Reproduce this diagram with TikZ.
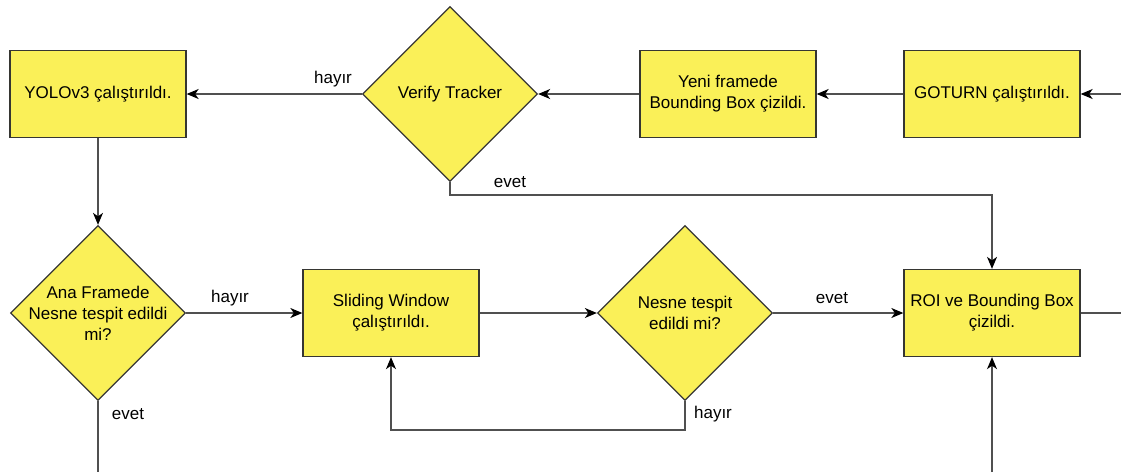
\documentclass[tikz,border=0pt]{standalone}
\usepackage{fontspec}
\setmainfont{Liberation Sans}
\usetikzlibrary{shapes.geometric,arrows.meta}
\definecolor{boxfill}{RGB}{250,240,88}
\definecolor{boxline}{RGB}{54,54,50}
\definecolor{wire}{RGB}{80,80,80}
\tikzset{
  txt/.style={font=\fontsize{17}{21}\selectfont, align=center, inner sep=0pt, text=black},
  procbox/.style={draw=boxline, fill=boxfill, line width=1.3pt, minimum width=176pt, minimum height=87pt, inner sep=0pt},
  decision/.style={diamond, draw=boxline, fill=boxfill, line width=1.3pt, minimum width=175pt, minimum height=175pt, inner sep=0pt},
  flow/.style={draw=wire, line width=1.3pt, -{Stealth[length=12pt,width=10pt,inset=3.5pt,color=black]}},
  wireline/.style={draw=wire, line width=1.3pt},
  lbl/.style={font=\fontsize{17}{21}\selectfont, inner sep=0pt, text=black}
}
\begin{document}
\begin{tikzpicture}[x=1pt,y=-1pt]
\useasboundingbox (0,0) rectangle (1121,472);

% upper row
\node[procbox] (yolo) at (98,94) {};
\node[txt] (yolot) at (yolo) {YOLOv3 çalıştırıldı.};
\node[decision] (verify) at (450,94) {};
\node[txt] (verifyt) at (verify) {Verify Tracker};
\node[procbox] (yeni) at (728,94) {};
\node[txt] (yenit) at (yeni) {Yeni framede\\Bounding Box çizildi.};
\node[procbox] (goturn) at (992,94) {};
\node[txt] (goturnt) at (goturn) {GOTURN çalıştırıldı.};

% lower row
\node[decision] (ana) at (98,313) {};
\node[txt] (anat) at (ana) {Ana Framede\\Nesne tespit edildi\\mi?};
\node[procbox] (slide) at (391,313) {};
\node[txt] (slidet) at (slide) {Sliding Window\\çalıştırıldı.};
\node[decision] (nesne) at (685,313) {};
\node[txt] (nesnet) at (nesne) {Nesne tespit\\edildi mi?};
\node[procbox] (roi) at (992,313) {};
\node[txt] (roit) at (roi) {ROI ve Bounding Box\\çizildi.};

% loose ends at the picture border
\coordinate (inright) at (1121,94);
\coordinate (outright) at (1121,313);
\coordinate (inbottom) at (992,472);
\coordinate (outbottom) at (98,472);

% connectors
\draw[flow] (inright) -- (goturn.east);
\draw[flow] (goturn.west) -- (yeni.east);
\draw[flow] (yeni.west) -- (verify.east);
\draw[flow] (verify.west) -- (yolo.east);
\draw[flow] (verify.south) |- (700,195) -| (roi.north);
\draw[flow] (yolo.south) -- (ana.north);
\draw[flow] (ana.east) -- (slide.west);
\draw[flow] (slide.east) -- (nesne.west);
\draw[flow] (nesne.east) -- (roi.west);
\draw[flow] (nesne.south) |- (540,430) -| (slide.south);
\draw[wireline] (roi.east) -- (outright);
\draw[flow] (inbottom) -- (roi.south);
\draw[wireline] (ana.south) -- (outbottom);

% branch labels
\node[lbl] (l1) at (333,79) {hayır};
\node[lbl] (l2) at (510,182) {evet};
\node[lbl] (l3) at (230,298) {hayır};
\node[lbl] (l4) at (128,414) {evet};
\node[lbl] (l5) at (832,298) {evet};
\node[lbl] (l6) at (713,414) {hayır};
\end{tikzpicture}
\end{document}
